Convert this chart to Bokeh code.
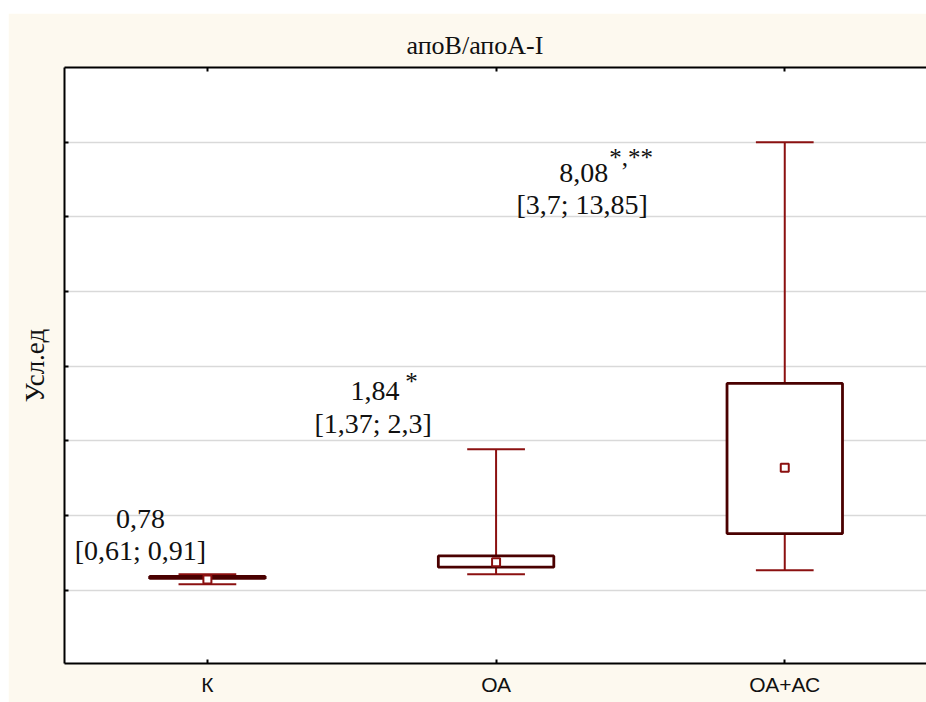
from bokeh.plotting import figure
from bokeh.models import (LinearAxis, FixedTicker, Range1d, ColumnDataSource, CustomLabelingPolicy)
from bokeh.core.properties import value
from bokeh.embed import file_html
from bokeh.resources import INLINE

# ---- data ----
categories = ["К", "ОА", "ОА+АС"]
positions = [1, 2, 3]
whisker_low = [0.40, 1.07, 1.34]
box_low = [0.80, 1.55, 3.80]
median = [0.72, 1.88, 8.20]
box_high = [0.93, 2.30, 13.85]
whisker_high = [1.07, 9.45, 30.0]

grid_ticks = [0, 5, 10, 15, 20, 25, 30]

ann_main = ["0,78", "1,84", "8,08"]
ann_sup = ["", "*", "*,**"]
ann_ci = ["[0,61; 0,91]", "[1,37; 2,3]", "[3,7; 13,85]"]

# annotation placement (data coordinates)
main_x = [0.768, 1.581, 2.304]
main_y = [4.75, 13.32, 27.92]
sup_x = [0.0, 1.685, 2.392]
sup_y = [0.0, 13.95, 29.0]
ci_x = [0.768, 1.574, 2.298]
ci_y = [2.68, 11.18, 25.84]

CREAM = "#FDF9EF"
BOX_LINE = "#4a0000"
WHISK = "#8b1010"
SERIF = "Liberation Serif"

no_labels = CustomLabelingPolicy(code="""
for (const i of indices) indices.unset(i)
return indices
""")

p = figure(width=918, height=689, output_backend="svg", toolbar_location=None,
           x_range=Range1d(0.505, 3.491), y_range=Range1d(-4.9, 35.0),
           min_border_left=56, min_border_right=0, min_border_top=54, min_border_bottom=39,
           title="апоB/апоA-I")
p.margin = (13, 0, 0, 8)
p.background_fill_color = "white"
p.border_fill_color = CREAM
p.outline_line_color = None

p.title.align = "left"
p.title.offset = 342
p.title.text_font = SERIF
p.title.text_font_size = "26px"
p.title.text_font_style = "normal"
p.title.text_color = "#111111"
p.title.standoff = 8

# grid
p.xgrid.visible = False
p.ygrid.ticker = FixedTicker(ticks=grid_ticks)
p.ygrid.grid_line_color = "#d9d9d9"
p.ygrid.grid_line_width = 1.5

# x axis (below)
xa = p.xaxis[0]
xa.ticker = FixedTicker(ticks=positions)
xa.major_label_overrides = {pos: c for pos, c in zip(positions, categories)}
xa.major_label_text_font = "Liberation Sans"
xa.major_label_text_font_size = "21px"
xa.major_label_text_color = "#111111"
xa.major_label_standoff = 9
xa.major_tick_in = 4
xa.major_tick_out = 0
xa.minor_tick_line_color = None
xa.axis_line_width = 2
xa.major_tick_line_width = 2

# y axis (left)
ya = p.yaxis[0]
ya.ticker = FixedTicker(ticks=grid_ticks)
ya.major_label_policy = no_labels
ya.major_label_text_font_size = "1px"
ya.major_label_standoff = 0
ya.major_tick_in = 4
ya.major_tick_out = 0
ya.minor_tick_line_color = None
ya.axis_line_width = 2
ya.major_tick_line_width = 2
ya.axis_label = "Усл.ед"
ya.axis_label_text_font = SERIF
ya.axis_label_text_font_size = "27px"
ya.axis_label_text_font_style = "normal"
ya.axis_label_text_color = "#111111"
ya.axis_label_standoff = 10

# top axis
ta = LinearAxis(ticker=FixedTicker(ticks=positions), major_label_policy=no_labels,
                major_label_text_font_size="1px",
                major_label_standoff=0, major_tick_in=4, major_tick_out=0,
                minor_tick_line_color=None, axis_line_width=2, major_tick_line_width=2)
p.add_layout(ta, "above")

src = ColumnDataSource(dict(x=positions, wl=whisker_low, bl=box_low, med=median,
                            bh=box_high, wh=whisker_high))

# whiskers
p.segment(x0="x", y0="wl", x1="x", y1="wh", source=src, line_color=WHISK, line_width=2)
cap_half = 0.1
p.segment(x0=[x - cap_half for x in positions], y0=whisker_low,
          x1=[x + cap_half for x in positions], y1=whisker_low, line_color=WHISK, line_width=2)
p.segment(x0=[x - cap_half for x in positions], y0=whisker_high,
          x1=[x + cap_half for x in positions], y1=whisker_high, line_color=WHISK, line_width=2)

# boxes
box_half = 0.2
p.quad(left=[x - box_half for x in positions], right=[x + box_half for x in positions],
       bottom=box_low, top=box_high, fill_color="white", line_color=BOX_LINE, line_width=2.8)

# median markers
p.scatter(x="x", y="med", source=src, marker="square", size=8, fill_color="white",
          line_color=WHISK, line_width=2)

# annotations
p.text(x=main_x, y=main_y, text=ann_main, text_font=value(SERIF), text_font_size="28px",
       text_align="center", text_baseline="middle", text_color="#111111")
p.text(x=ci_x, y=ci_y, text=ann_ci, text_font=value(SERIF), text_font_size="28px",
       text_align="center", text_baseline="middle", text_color="#111111")
p.text(x=sup_x[1:], y=sup_y[1:], text=ann_sup[1:], text_font=value(SERIF), text_font_size="25px",
       text_align="left", text_baseline="middle", text_color="#111111")

open("out.html", "w").write(file_html(p, INLINE))
